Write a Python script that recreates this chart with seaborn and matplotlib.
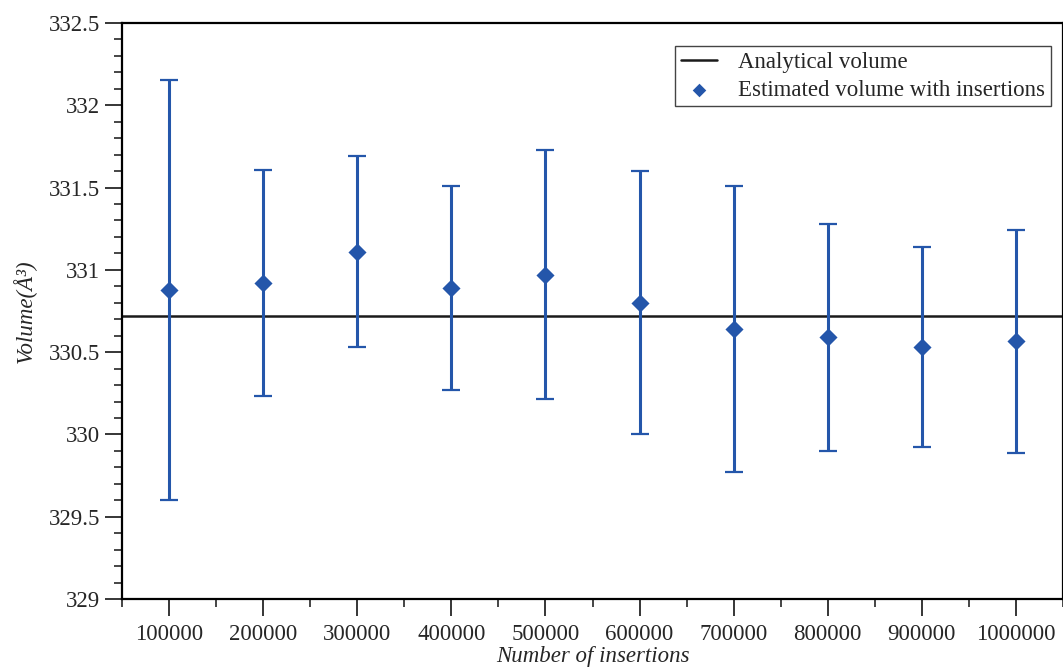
import numpy as np
import pandas as pd
import matplotlib
matplotlib.use("Agg")
import matplotlib.pyplot as plt
from matplotlib.ticker import MultipleLocator
import seaborn as sns

# values
insertions = [100000, 200000, 300000, 400000, 500000,
              600000, 700000, 800000, 900000, 1000000]
volume_est = [330.88, 330.92, 331.11, 330.89, 330.97,
              330.80, 330.64, 330.59, 330.53, 330.565]
volume_err = [1.276, 0.687, 0.58, 0.62, 0.757,
              0.80, 0.87, 0.689, 0.608, 0.678]
analytical = 330.72
ytick_vals = [329, 329.5, 330, 330.5, 331, 331.5, 332, 332.5]
ytick_labels = ['329', '329.5', '330', '330.5', '331', '331.5', '332', '332.5']

df = pd.DataFrame({'Number of insertions': insertions,
                   'Volume': volume_est,
                   'err': volume_err})

sns.set_style('ticks')
plt.rcParams['font.family'] = ['Liberation Serif', 'DejaVu Serif']
plt.rcParams['font.size'] = 16

blue = '#2456aa'

fig = plt.figure(figsize=(10.63, 6.68), dpi=100)
ax = fig.add_axes([0.1148, 0.1033, 0.8852, 0.8623])

ax.axhline(analytical, color='#1a1a1a', lw=1.8, label='Analytical volume', zorder=2)
ax.errorbar(df['Number of insertions'], df['Volume'], yerr=df['err'],
            fmt='none', ecolor=blue, elinewidth=2.2, capsize=6.2, capthick=1.6, zorder=3)
sns.scatterplot(data=df, x='Number of insertions', y='Volume', marker='D',
                s=85, color=blue, edgecolor=blue, linewidth=0,
                label='Estimated volume with insertions', ax=ax, zorder=4)

ax.set_xlim(50000, 1050000)
ax.set_ylim(329, 332.5)
ax.set_xticks(insertions)
ax.set_xticklabels([str(v) for v in insertions])
ax.xaxis.set_minor_locator(MultipleLocator(50000))
ax.set_yticks(ytick_vals)
ax.set_yticklabels(ytick_labels)
ax.yaxis.set_minor_locator(MultipleLocator(0.1))

ax.tick_params(axis='y', which='major', direction='out', length=12, width=1.3, labelsize=16.5, pad=4)
ax.tick_params(axis='x', which='major', direction='out', length=12, width=1.3, labelsize=16.5, pad=6)
ax.tick_params(which='minor', direction='out', length=6, width=1.2)
for s in ax.spines.values():
    s.set_linewidth(1.6)
    s.set_color('black')

ax.set_xlabel('Number of insertions', fontstyle='italic', fontsize=16.5, labelpad=1)
ax.set_ylabel('Volume(Å³)', fontstyle='italic', fontsize=16.5, labelpad=8)

leg = ax.legend(loc='upper right', bbox_to_anchor=(0.987, 0.96), borderaxespad=0,
                fontsize=16.5, frameon=True, fancybox=False, framealpha=1,
                edgecolor='#444444', borderpad=0.25, labelspacing=0.3,
                handlelength=1.6, handletextpad=0.9, markerscale=0.75)
leg.get_frame().set_linewidth(1.0)

fig.savefig('out.png', dpi=100)
